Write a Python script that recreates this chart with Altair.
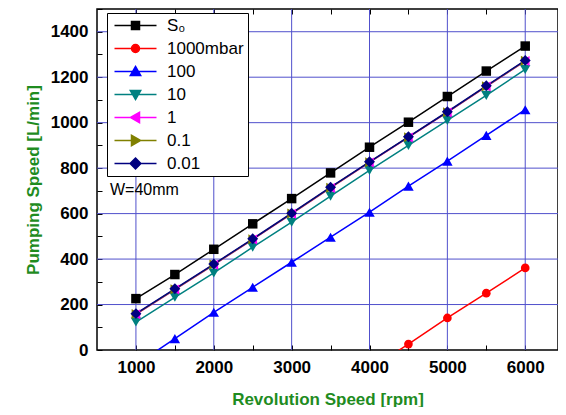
import altair as alt
import pandas as pd

rpm = [1000, 1500, 2000, 2500, 3000, 3500, 4000, 4500, 5000, 5500, 6000]
s0 = [226, 332, 443, 555, 666, 779, 892, 1002, 1115, 1227, 1337]
rpm_1000mbar = [4000, 4500, 5000, 5500, 6000]
p1000 = [-85, 26, 141, 250, 361]
p100 = [-65, 50, 166, 276, 386, 496, 606, 721, 831, 944, 1057]
p10 = [123, 232, 339, 452, 562, 677, 790, 900, 1010, 1120, 1234]
p1 = [157, 266, 375, 486, 599, 713, 825, 935, 1045, 1159, 1271]
p01 = [158, 267, 376, 487, 600, 714, 826, 936, 1046, 1160, 1272]
p001 = [160, 269, 378, 489, 602, 716, 828, 938, 1048, 1162, 1274]

names = ["S\u2080", "1000mbar", "100", "10", "1", "0.1", "0.01"]
colors = ["#000000", "#ff0000", "#0000ff", "#008080", "#ff00ff", "#808000", "#000080"]
shapes = ["square", "circle", "triangle-up", "triangle-down", "triangle-left", "triangle-right", "diamond"]
sizes = [90, 75, 110, 110, 100, 100, 120]
L = "M-5.25,0H5.25"
legend_paths = [
    L + "M-1,-1H1V1H-1Z",
    L + "M1,0A1,1,0,1,1,-1,0A1,1,0,1,1,1,0Z",
    L + "M0,-1.25L1.3,1L-1.3,1Z",
    L + "M0,1.25L1.3,-1L-1.3,-1Z",
    L + "M-1.25,0L1,-1.3L1,1.3Z",
    L + "M1.25,0L-1,-1.3L-1,1.3Z",
    L + "M0,-1.35L1.35,0L0,1.35L-1.35,0Z",
]

x_ticks = [1000, 1500, 2000, 2500, 3000, 3500, 4000, 4500, 5000, 5500, 6000]
y_ticks = list(range(0, 1501, 100))
x_grid = [1000, 2000, 3000, 4000, 5000, 6000]
y_grid = [200, 400, 600, 800, 1000, 1200, 1400]
note_text = ["W=40mm"]
note_x = [667]
note_y = [704]

series_vals = [s0, p1000, p100, p10, p1, p01, p001]
series_x = [rpm, rpm_1000mbar, rpm, rpm, rpm, rpm, rpm]
rows = []
for i, (nm, xs, ys) in enumerate(zip(names, series_x, series_vals)):
    for xv, yv in zip(xs, ys):
        rows.append({"series": nm, "entry": nm, "order": i, "rpm": xv, "speed": yv})
df = pd.DataFrame(rows)

FONT = "Liberation Sans"
GREEN = "#1f8c1f"
GRID = "#5050cc"
W, H = 461, 341
xscale = alt.Scale(domain=[500, 6421], nice=False, zero=False)
yscale = alt.Scale(domain=[0, 1500], nice=False)

x_axis = alt.Axis(values=x_ticks, labelExpr="datum.value % 1000 == 0 ? datum.label : ''",
                  format="d", offset=-5, tickSize=5, tickColor="black", domain=False, grid=False,
                  labelPadding=9, labelFont=FONT, labelFontSize=17, labelFontWeight="bold",
                  labelColor="black", title="Revolution Speed [rpm]", titleFont=FONT,
                  titleFontSize=17, titleFontWeight="bold", titleColor=GREEN,
                  titleY=54, titleBaseline="middle")
y_axis = alt.Axis(values=y_ticks, labelExpr="datum.value % 200 == 0 ? datum.label : ''",
                  format="d", offset=-5, tickSize=5, tickColor="black", domain=False, grid=False,
                  labelPadding=9, labelFont=FONT, labelFontSize=17, labelFontWeight="bold",
                  labelColor="black", title="Pumping Speed [L/min]", titleFont=FONT,
                  titleFontSize=17, titleFontWeight="bold", titleColor=GREEN,
                  titleX=-69, titleY=H / 2, titleAngle=270, titleBaseline="middle", titleAlign="center")
top_axis = alt.Axis(orient="top", values=x_ticks, offset=-5, tickSize=5, tickColor="black",
                    domain=False, grid=False, labels=False, title=None)

xg = alt.Chart(pd.DataFrame({"v": x_grid})).mark_rule(color=GRID, strokeWidth=1).encode(
    x=alt.X("v:Q", scale=xscale, axis=top_axis))
yg = alt.Chart(pd.DataFrame({"v": y_grid})).mark_rule(color=GRID, strokeWidth=1).encode(
    y=alt.Y("v:Q", scale=yscale, axis=None))

# axes carrier (invisible-free: axes only, draws the first series line)
line_layers = []
for k, (nm, c) in enumerate(zip(names, colors)):
    line_layers.append(
        alt.Chart(df).transform_filter(alt.datum.series == nm).mark_line(
            strokeWidth=1.5, color=c, clip=True).encode(
            x=alt.X("rpm:Q", scale=xscale, axis=x_axis if k == 0 else None),
            y=alt.Y("speed:Q", scale=yscale, axis=y_axis if k == 0 else None),
            order="rpm:Q"))
point_layers = []
for nm, c, sh, sz in zip(names, colors, shapes, sizes):
    point_layers.append(
        alt.Chart(df).transform_filter(alt.datum.series == nm).mark_point(
            filled=True, shape=sh, size=sz, color=c, opacity=1, clip=True).encode(
            x=alt.X("rpm:Q", scale=xscale, axis=None),
            y=alt.Y("speed:Q", scale=yscale, axis=None)))

note = alt.Chart(pd.DataFrame({"t": note_text, "x": note_x, "y": note_y})).mark_text(
    align="left", baseline="middle", font=FONT, fontSize=16, color="black").encode(
    x=alt.X("x:Q", scale=xscale, axis=None), y=alt.Y("y:Q", scale=yscale, axis=None), text="t:N")

def make_leg():
    return alt.Legend(title=None, orient="none", legendX=10, legendY=4, padding=4,
                      strokeColor="black", fillColor="white", symbolSize=64, symbolStrokeWidth=1.5,
                      symbolOffset=16, labelOffset=23, rowPadding=5, labelFont=FONT,
                      labelFontSize=17, labelColor="black")

legend_layer = alt.Chart(df).transform_filter("false").mark_point(filled=True, opacity=1).encode(
    x=alt.X("rpm:Q", scale=xscale, axis=None),
    y=alt.Y("speed:Q", scale=yscale, axis=None),
    fill=alt.Fill("entry:N", scale=alt.Scale(domain=names, range=colors), legend=make_leg()),
    stroke=alt.Stroke("entry:N", scale=alt.Scale(domain=names, range=colors), legend=make_leg()),
    shape=alt.Shape("entry:N", scale=alt.Scale(domain=names, range=legend_paths), legend=make_leg()),
)

chart = alt.layer(xg, yg, *line_layers, *point_layers, note, legend_layer).resolve_axis(
    x="independent", y="independent").properties(
    width=W, height=H, padding={"left": 89, "top": 1, "right": 0, "bottom": 57},
    autosize=alt.AutoSizeParams(type="none"), background="white"
).configure_view(stroke="black", strokeWidth=1.5)

chart.save("out.html", embed_options={"renderer": "svg", "actions": False})
